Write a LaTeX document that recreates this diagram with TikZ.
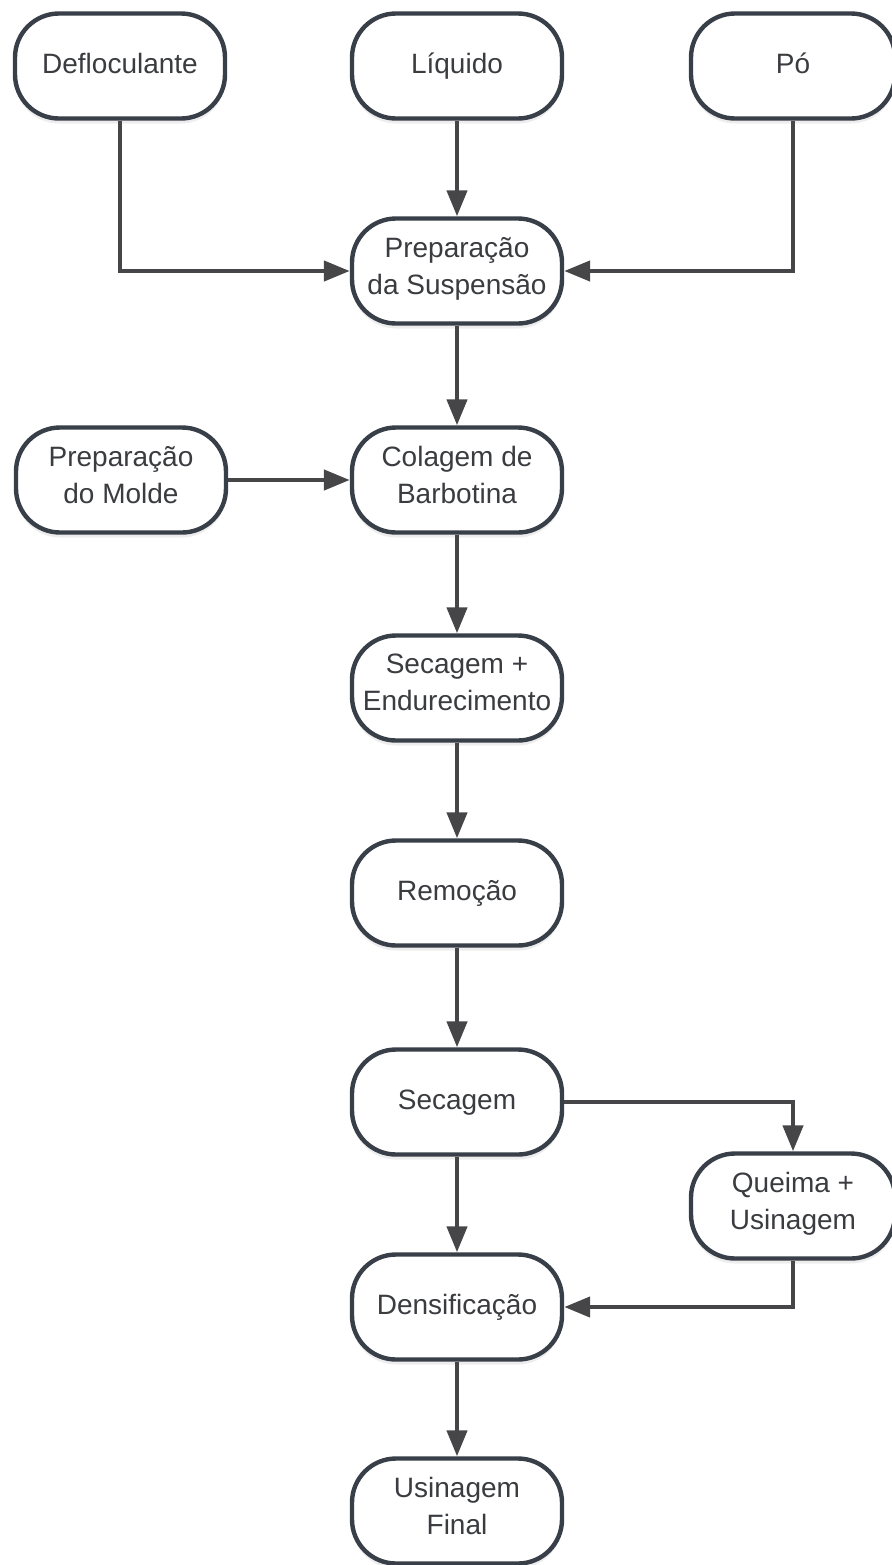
\documentclass[tikz,border=0pt]{standalone}
\usepackage{fontspec}
\setmainfont{Liberation Sans}
\usepackage{tikz}
\usetikzlibrary{shapes}
\usetikzlibrary{arrows.meta}
\usetikzlibrary{shadows}
\usepackage{xcolor}
\definecolor{boxline}{RGB}{56,63,72}
\definecolor{arrline}{RGB}{70,70,72}
\definecolor{txt}{RGB}{58,60,64}

\begin{document}
\begin{tikzpicture}[x=.5pt,y=-.5pt,
  etapa/.style={draw=boxline, line width=2.2pt, fill=white, rounded corners=22pt,
    minimum width=105pt, minimum height=52.5pt, align=center, inner sep=0pt,
    font=\fontsize{14}{18.5}\selectfont, text=txt,
    execute at begin node=\strut, execute at end node=\strut,
    drop shadow={shadow xshift=0pt, shadow yshift=-2.5pt, opacity=.14}},
  fluxo/.style={draw=arrline, line width=2.2pt, -{Triangle[length=13pt,width=10pt]}}]
\useasboundingbox (0,0) rectangle (892,1565);
% entradas
\node[etapa] (defl) at (120,66) {Defloculante};
\node[etapa] (liq) at (457,66) {Líquido};
\node[etapa, minimum width=102pt] (po) at (793,66) {Pó};
% etapas
\node[etapa] (susp) at (457,271) {Preparação\\da Suspensão};
\node[etapa] (molde) at (121,480) {Preparação\\do Molde};
\node[etapa] (colag) at (457,480) {Colagem de\\Barbotina};
\node[etapa] (secend) at (457,688) {Secagem +\\Endurecimento};
\node[etapa] (remoc) at (457,893) {Remoção};
\node[etapa] (secag) at (457,1102) {Secagem};
\node[etapa, minimum width=102pt] (queima) at (793,1206) {Queima +\\Usinagem};
\node[etapa] (densif) at (457,1307) {Densificação};
\node[etapa] (usinf) at (457,1511) {Usinagem\\Final};
% fluxo
\draw[fluxo] (defl) |- (susp);
\draw[fluxo] (liq) -- (susp);
\draw[fluxo] (po) |- (susp);
\draw[fluxo] (susp) -- (colag);
\draw[fluxo] (molde) -- (colag);
\draw[fluxo] (colag) -- (secend);
\draw[fluxo] (secend) -- (remoc);
\draw[fluxo] (remoc) -- (secag);
\draw[fluxo] (secag) -- (densif);
\draw[fluxo] (secag) -| (queima);
\draw[fluxo] (queima) |- (densif);
\draw[fluxo] (densif) -- (usinf);
\end{tikzpicture}
\end{document}
